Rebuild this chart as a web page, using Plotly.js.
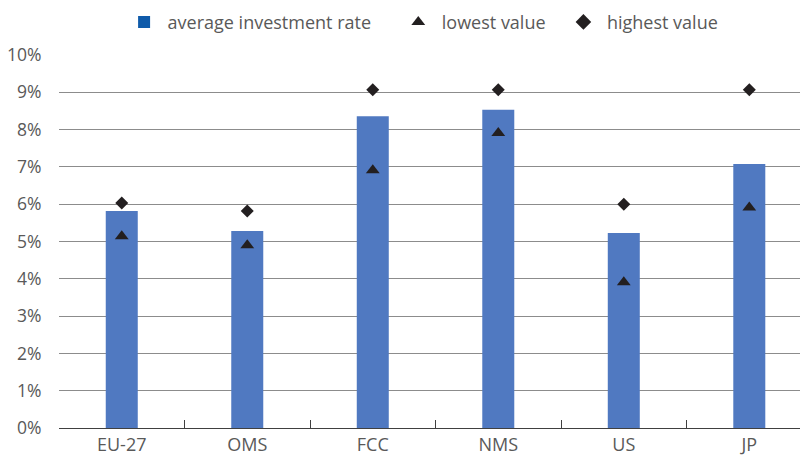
<!DOCTYPE html>
<html><head><meta charset="utf-8">
<script src="https://cdn.plot.ly/plotly-3.0.1.min.js"></script>
<style>html,body{margin:0;padding:0;background:#fff}#chart{width:800px;height:463px}</style>
</head><body><div id="chart"></div>
<script>
const categories = ["EU-27", "OMS", "FCC", "NMS", "US", "JP"];
const averageRate = [5.82, 5.28, 8.36, 8.53, 5.23, 7.08];
const lowestValue = [5.14, 4.90, 6.91, 7.91, 3.91, 5.91];
const highestValue = [6.03, 5.82, 9.07, 9.07, 6.00, 9.07];
const yTicks = [0,1,2,3,4,5,6,7,8,9,10];
const legendNames = ["average investment rate\u00a0\u00a0\u00a0\u00a0", "lowest value\u00a0\u00a0", "highest value"];

const font = {family: "Open Sans, sans-serif", size: 17.5, color: "#595959"};
const traces = [
  {type: "bar", x: categories, y: averageRate, width: 0.255, marker: {color: "#5079C1"}, showlegend: false, name: "average investment rate", hoverinfo: "x+y"},
  {type: "scatter", mode: "markers", x: [categories[0]], y: [null], name: legendNames[0], marker: {symbol: "square", size: 14, color: "#0F5BAA"}},
  {type: "scatter", mode: "markers", x: categories, y: lowestValue, name: legendNames[1], marker: {symbol: "triangle-up", size: 12, color: "#231F20"}},
  {type: "scatter", mode: "markers", x: categories, y: highestValue, name: legendNames[2], marker: {symbol: "diamond", size: 10, color: "#231F20"}}
];
const layout = {
  width: 800, height: 463,
  margin: {l: 59, r: 0, t: 55, b: 35, autoexpand: false},
  paper_bgcolor: "#fff", plot_bgcolor: "#fff",
  font: font,
  showlegend: true,
  legend: {orientation: "h", x: 0.49, xanchor: "center", y: 1.088, yanchor: "middle", itemwidth: 37,
           font: {family: font.family, size: 18, color: "#595959"}, itemsizing: "constant", traceorder: "normal"},
  xaxis: {type: "category", range: [-0.5, 5.404], showgrid: false, showline: true, linecolor: "#404040", linewidth: 1,
          ticks: "inside", tickson: "boundaries", ticklen: 8, tickcolor: "#404040", zeroline: false, fixedrange: true,
          tickfont: {family: font.family, size: 18, color: "#595959"}},
  yaxis: {range: [0, 10], tickvals: yTicks, ticktext: yTicks.map(v => v + "%"), showgrid: true, gridcolor: "#8c8c8c", gridwidth: 1,
          zeroline: false, showline: false, ticks: "outside", ticklen: 13, tickcolor: "rgba(0,0,0,0)", fixedrange: true,
          tickfont: {family: font.family, size: 17.5, color: "#595959"}}
};
Plotly.newPlot("chart", traces, layout, {displayModeBar: false, staticPlot: true});
</script></body></html>
